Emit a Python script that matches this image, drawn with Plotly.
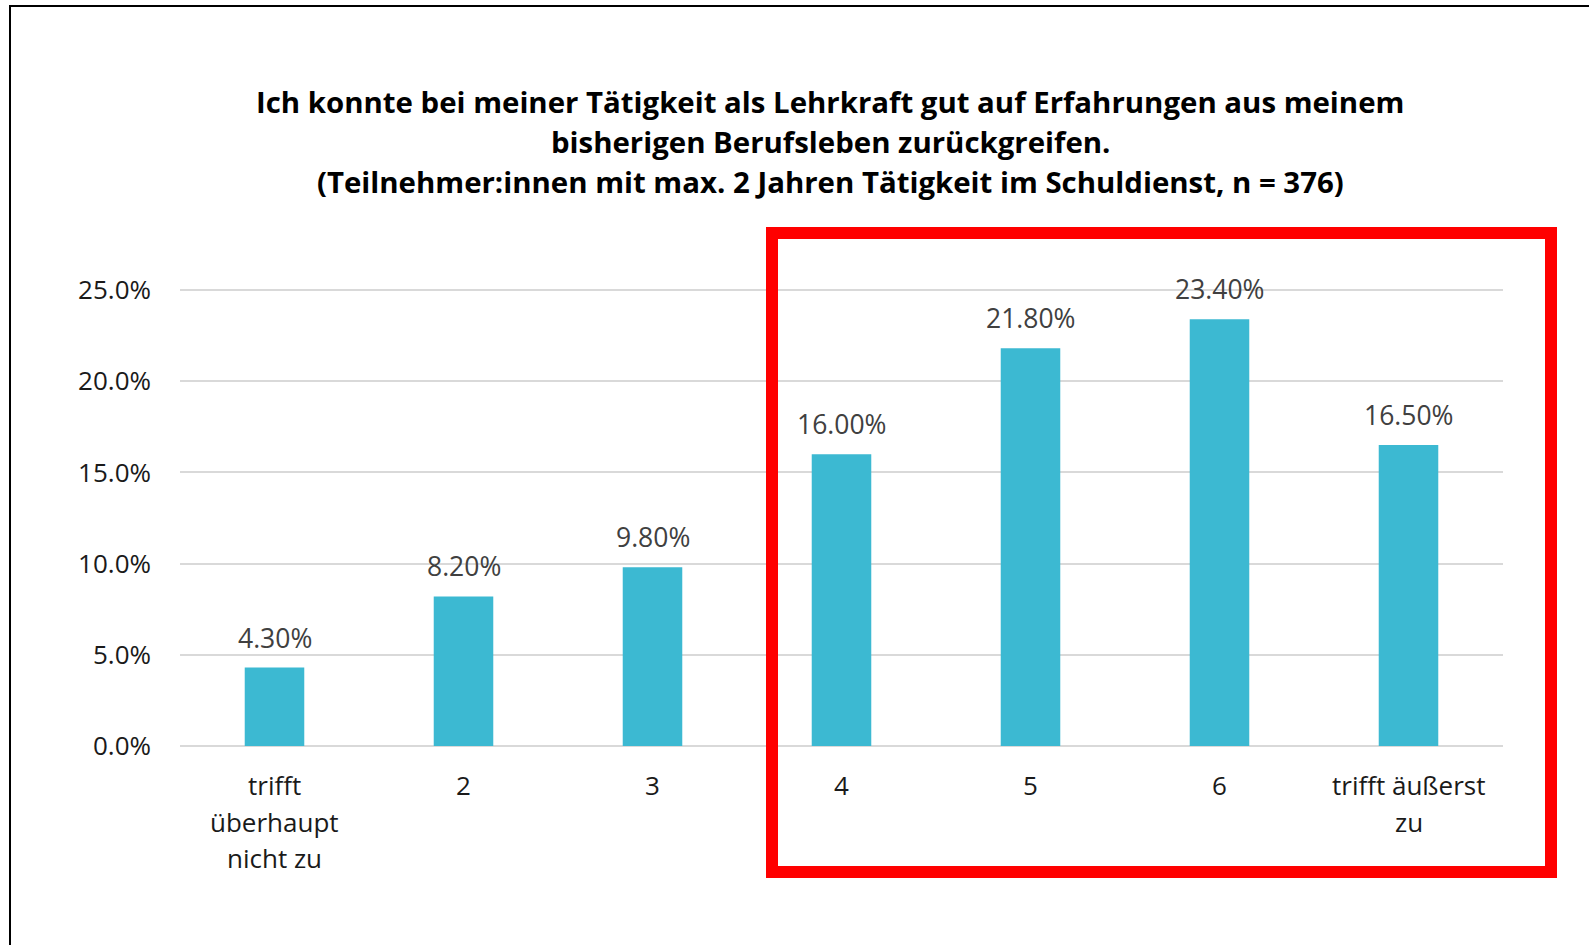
import plotly.graph_objects as go

categories = ["trifft<br>überhaupt<br>nicht zu", "2", "3", "4", "5", "6", "trifft äußerst<br>zu"]
values = [4.3, 8.2, 9.8, 16.0, 21.8, 23.4, 16.5]
title_lines = [
    "Ich konnte bei meiner Tätigkeit als Lehrkraft gut auf Erfahrungen aus meinem",
    "bisherigen Berufsleben zurückgreifen.",
    "(Teilnehmer:innen mit max. 2 Jahren Tätigkeit im Schuldienst, n = 376)",
]
y_ticks = [0, 5, 10, 15, 20, 25]

W, H = 1589, 945
L, R, T, B = 180, 86, 286, 199
pw, ph = W - L - R, H - T - B
# pixel rows of the 0% and 25% gridlines
Y0_PX, Y25_PX = 746, 290
y_max = 25 * (Y0_PX - T) / (Y0_PX - Y25_PX)

def px_x(x):
    return (x - L) / pw

def px_y(y):
    return (H - B - y) / ph

FONT = "Open Sans"
idx = list(range(len(categories)))

fig = go.Figure()
fig.add_trace(go.Bar(
    x=idx, y=values,
    marker=dict(color="#3CB9D2", line=dict(width=0)),
    hoverinfo="skip",
))

annotations = []
# data labels
for i, v in zip(idx, values):
    annotations.append(dict(
        x=i, y=v, xref="x", yref="y", text=f"{v:.2f}%", showarrow=False,
        yanchor="bottom", yshift=10,
        font=dict(family=FONT, size=26.5, color="#404040"),
    ))

# category labels (one line per annotation for exact line spacing)
line_y_px = [785, 822, 858]
for i, c in zip(idx, categories):
    for j, part in enumerate(c.split("<br>")):
        annotations.append(dict(
            x=i, y=px_y(line_y_px[j]), xref="x", yref="paper", text=part,
            showarrow=False, xanchor="center", yanchor="middle",
            font=dict(family=FONT, size=26, color="#1A1A1A"),
        ))

title_y_px = [102, 142, 182]
for line, ypx in zip(title_lines, title_y_px):
    annotations.append(dict(
        x=px_x(830), y=px_y(ypx), xref="paper", yref="paper", text=line,
        showarrow=False, xanchor="center", yanchor="middle",
        font=dict(family=FONT, size=29.4, color="#000000", weight="bold"),
    ))

shapes = [
    # outer chart border (left and top visible)
    dict(type="rect", xref="paper", yref="paper",
         x0=px_x(10), x1=px_x(1700), y0=px_y(1100), y1=px_y(6),
         line=dict(color="#000000", width=2), fillcolor="rgba(0,0,0,0)"),
    # red highlight box
    dict(type="rect", xref="paper", yref="paper",
         x0=px_x(772), x1=px_x(1551), y0=px_y(872), y1=px_y(233),
         line=dict(color="#FF0000", width=12), fillcolor="rgba(0,0,0,0)"),
]

fig.update_layout(
    width=W, height=H,
    margin=dict(l=L, r=R, t=T, b=B),
    paper_bgcolor="#FFFFFF", plot_bgcolor="#FFFFFF",
    showlegend=False,
    bargap=0.685,
    annotations=annotations,
    shapes=shapes,
    font=dict(family=FONT),
)
fig.update_xaxes(
    range=[-0.5, len(categories) - 0.5],
    showgrid=False, showline=False, ticks="", showticklabels=False,
    zeroline=False,
)
fig.update_yaxes(
    range=[0, y_max], tickvals=y_ticks,
    ticktext=[f"{t:.1f}%" for t in y_ticks],
    showgrid=True, gridcolor="#D9D9D9", gridwidth=2,
    zeroline=True, zerolinecolor="#D9D9D9", zerolinewidth=2,
    showline=False, ticks="",
    tickfont=dict(family=FONT, size=26, color="#1A1A1A"),
    ticklabelstandoff=28,
)

fig.write_html(
    "out.html",
    config={"displayModeBar": False},
    post_script="document.body.style.margin='0';document.body.style.overflow='hidden';",
)
